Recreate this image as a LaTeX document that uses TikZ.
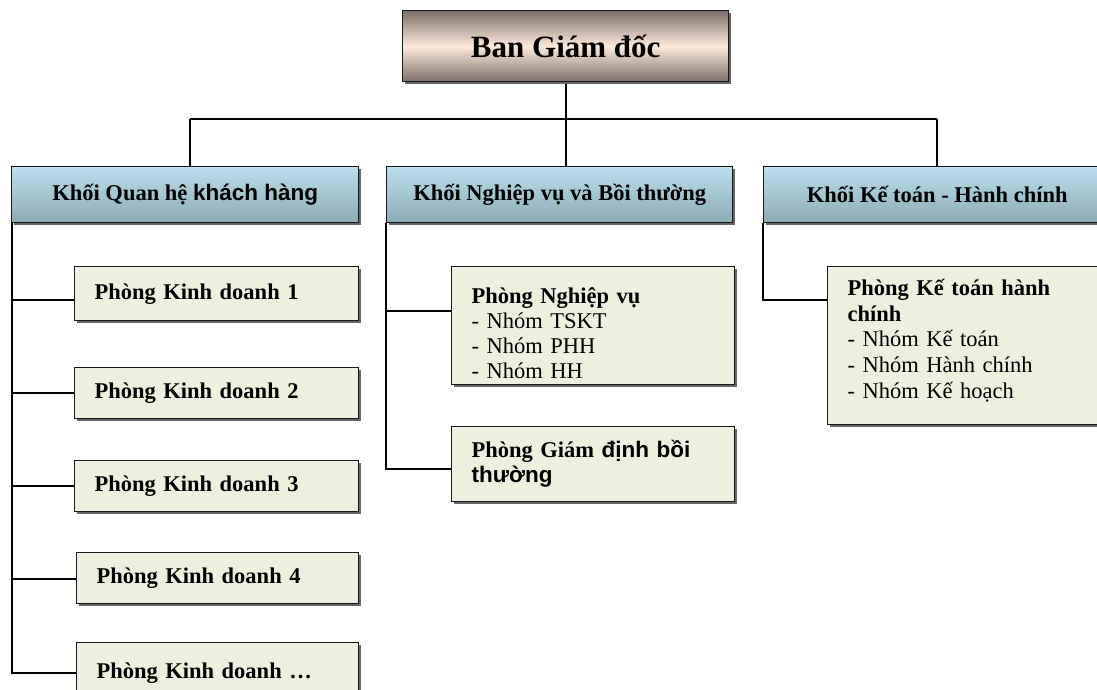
\documentclass[tikz,border=0pt]{standalone}
\usepackage{fontspec}
\setmainfont{Liberation Serif}
\newfontfamily\arialf{Liberation Sans}
\usetikzlibrary{shadows,calc,backgrounds}
\definecolor{topdark}{RGB}{125,110,104}
\definecolor{toplight}{RGB}{252,234,220}
\definecolor{khoitop}{RGB}{186,224,235}
\definecolor{khoibot}{RGB}{140,170,180}
\definecolor{phongfill}{RGB}{235,241,222}
\tikzset{
  boxbase/.style={draw=black!90, line width=1.4pt, anchor=north west, inner ysep=0pt,
    drop shadow={shadow xshift=2pt, shadow yshift=-2pt, fill=black!60, opacity=1}},
  topbox/.style={boxbase, top color=topdark, bottom color=topdark, middle color=toplight,
    align=center, inner xsep=0pt, font=\fontsize{31}{36}\selectfont\bfseries},
  khoibox/.style={boxbase, top color=khoitop, bottom color=khoibot,
    align=center, inner xsep=0pt, font=\fontsize{22.5}{25}\selectfont\bfseries},
  phongbox/.style={boxbase, fill=phongfill, align=left, inner xsep=20pt,
    font=\fontsize{22.5}{25}\selectfont},
  conn/.style={draw=black, line width=1.6pt}
}
\begin{document}
\begin{tikzpicture}[x=1pt,y=-1pt]
\useasboundingbox (0,0) rectangle (1097,689);
\clip (0,0) rectangle (1097,689);
% nodes
\node[topbox, minimum width=326, minimum height=71] (bgd) at (402,10) {Ban Giám đốc};
\node[khoibox, minimum width=347, minimum height=56] (k1) at (11,166) {Khối Quan hệ {\arialf khách hàng}};
\node[khoibox, minimum width=346, minimum height=56] (k2) at (386,166) {Khối Nghiệp vụ và Bồi thường};
\node[khoibox, minimum width=347, minimum height=56] (k3) at (763,166) {Khối Kế toán - Hành chính};
\node[phongbox, text width=244, minimum height=54] (p1) at (74,266) {\textbf{Phòng Kinh doanh 1}};
\node[phongbox, text width=244, minimum height=51] (p2) at (74,367) {\textbf{Phòng Kinh doanh 2}};
\node[phongbox, text width=244, minimum height=51] (p3) at (74,460) {\textbf{Phòng Kinh doanh 3}};
\node[phongbox, text width=242, minimum height=51] (p4) at (76,552) {\textbf{Phòng Kinh doanh 4}};
\node[phongbox, text width=242, minimum height=60] (p5) at (76,642) {\raisebox{4pt}{\textbf{Phòng Kinh doanh …}}};
\node[phongbox, text width=243, minimum height=118] (n1) at (451,266) {\rule{0pt}{30pt}\textbf{Phòng Nghiệp vụ}\\- Nhóm TSKT\\- Nhóm PHH\\- Nhóm HH};
\node[phongbox, text width=243, minimum height=75] (n2) at (451,426) {\textbf{Phòng Giám {\arialf định bồi}}\\{\arialf\bfseries thường}};
\node[phongbox, text width=243, minimum height=158, font=\fontsize{22.5}{25.7}\selectfont] (a1) at (827,266) {\textbf{Phòng Kế toán hành}\\\textbf{chính}\\- Nhóm Kế toán\\- Nhóm Hành chính\\- Nhóm Kế hoạch\rule[-14pt]{0pt}{1pt}};
\coordinate (hl) at (190,119);
\coordinate (hr) at (937,119);
% connectors (behind boxes)
\begin{scope}[on background layer]
\draw[conn] (bgd.south) -- (bgd.south |- k2.north);
\draw[conn] (hl) -- (hr);
\draw[conn] (hl) -- (hl |- k1.north);
\draw[conn] (hr) -- (hr |- k3.north);
\draw[conn] ($(k1.south west)+(1,0)$) |- ($(p1.north west)+(0,34)$);
\draw[conn] ($(k1.south west)+(1,0)$) |- (p2.west);
\draw[conn] ($(k1.south west)+(1,0)$) |- (p3.west);
\draw[conn] ($(k1.south west)+(1,0)$) |- ($(p4.north west)+(0,27)$);
\draw[conn] ($(k1.south west)+(1,0)$) |- ($(p5.north west)+(0,31)$);
\draw[conn] (k2.south west) |- ($(n1.north west)+(0,45)$);
\draw[conn] (k2.south west) |- ($(n2.north west)+(0,43)$);
\draw[conn] (k3.south west) |- ($(a1.north west)+(0,34)$);
\end{scope}
\end{tikzpicture}
\end{document}
